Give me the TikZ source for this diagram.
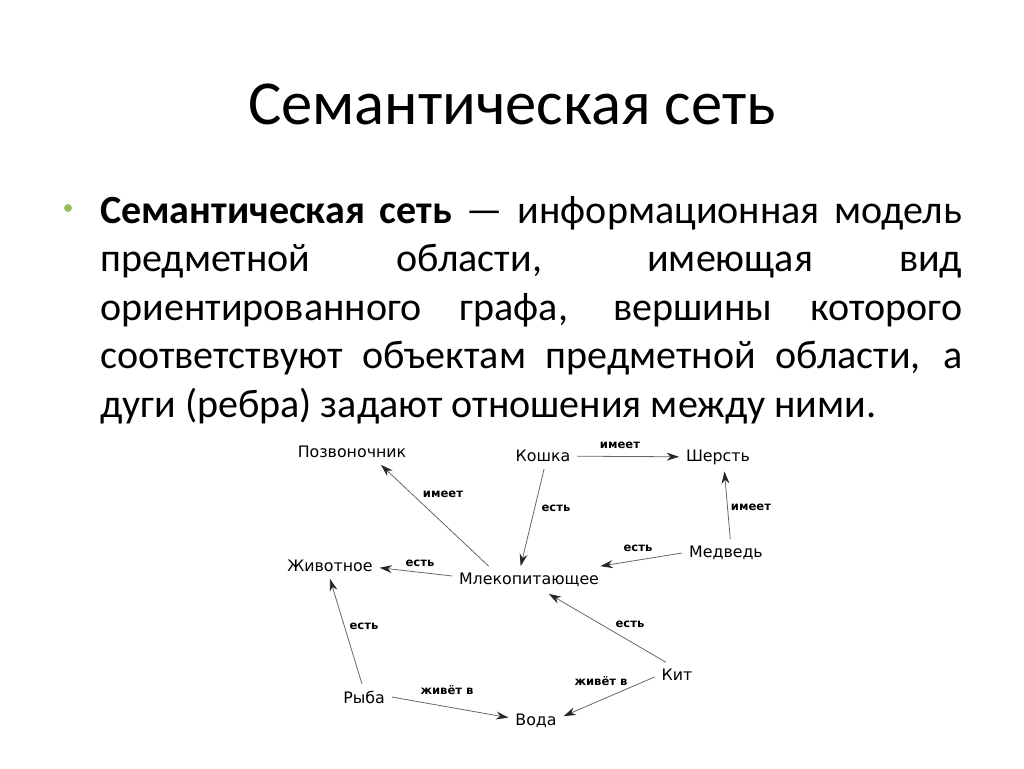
\documentclass[tikz,border=0pt]{standalone}
\usepackage{fontspec}
\setmainfont{Carlito}
\newfontfamily\graphfont{DejaVu Sans}
\usetikzlibrary{arrows.meta}

\tikzset{
  concept/.style={font=\graphfont\fontsize{9}{11}\selectfont, inner sep=1pt, outer sep=3pt},
  rel/.style={font=\graphfont\bfseries\fontsize{6.6}{8}\selectfont, inner sep=0pt},
  arc/.style={draw=black!60, line width=0.45pt, -{Stealth[length=7pt,width=4.5pt,black!85]}},
}
\definecolor{bulletgreen}{HTML}{9BBB59}

\begin{document}
\begin{tikzpicture}[x=0.02cm,y=-0.02cm]
\useasboundingbox (0,0) rectangle (1024,768);

% title and text of the slide
\node[font=\fontsize{35.6}{42}\selectfont, inner sep=0] (title) at (512,104) {Семантическая сеть};
\fill[bulletgreen] (68,208) circle (4);
\node[anchor=north west, text width=17.24cm, align=justify, inner sep=0,
      font=\fontsize{22.8}{27.6}\selectfont] (text) at (100,196)
  {\textbf{Семантическая сеть} — информационная модель\linebreak
   предметной области, имеющая вид\linebreak
   ориентированного графа, вершины которого\linebreak
   соответствуют объектам предметной области, а\linebreak
   дуги (ребра) задают отношения между ними.};

% the network
\node[concept] (pozv) at (352,452) {Позвоночник};
\node[concept] (koshka) at (543,456) {Кошка};
\node[concept] (sherst) at (718,457) {Шерсть};
\node[concept] (medved) at (726,553) {Медведь};
\node[concept] (zhivot) at (330,566) {Животное};
\node[concept] (mlek) at (529,580) {Млекопитающее};
\node[concept] (ryba) at (364,697) {Рыба};
\node[concept] (kit) at (677,675) {Кит};
\node[concept] (voda) at (536,721) {Вода};

\draw[arc] (koshka) -- (sherst);
\draw[arc] (koshka.-85) -- (mlek.121);
\draw[arc] (mlek.161) -- (pozv.-24);
\draw[arc] (mlek.177) -- (zhivot.-2);
\draw[arc] (medved.73) -- (sherst.-66);
\draw[arc] (medved.west) -- (mlek.11);
\draw[arc] (ryba.99) -- (zhivot.south);
\draw[arc] (kit.131) -- (mlek.-35);
\draw[arc] (ryba.east) -- (voda.173);
\draw[arc] (kit.185) -- (voda.10);

\node[rel] (r1) at (620,445) {имеет};
\node[rel] (r2) at (556,508) {есть};
\node[rel] (r3) at (751,507) {имеет};
\node[rel] (r4) at (638,548) {есть};
\node[rel] (r5) at (443,494) {имеет};
\node[rel] (r6) at (420,563) {есть};
\node[rel] (r7) at (364,626) {есть};
\node[rel] (r8) at (630,624) {есть};
\node[rel] (r9) at (447,690) {живёт в};
\node[rel] (r10) at (601,681) {живёт в};
\end{tikzpicture}
\end{document}
